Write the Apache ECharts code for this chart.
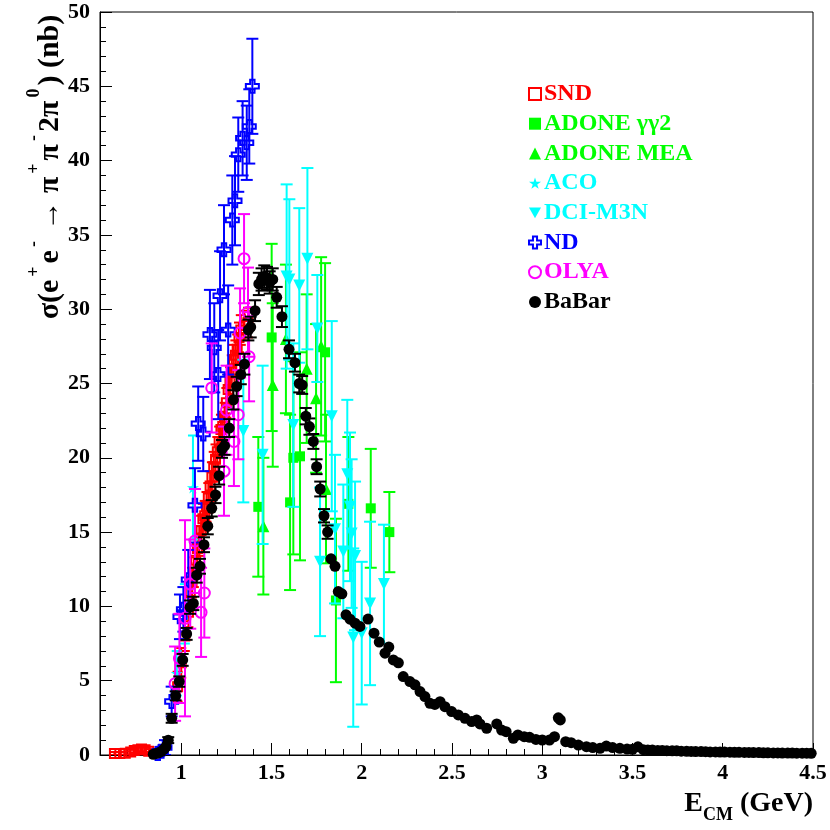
<!DOCTYPE html>
<html>
<head>
<meta charset="utf-8">
<script src="https://cdn.jsdelivr.net/npm/echarts@6/dist/echarts.min.js"></script>
<style>html,body{margin:0;padding:0;background:#fff;}#c{width:830px;height:830px;}</style>
</head>
<body>
<div id="c"></div>
<script>
// ---------- DATA: [E_CM (GeV), sigma (nb), error (nb)] ----------
const seriesNames = ['SND', 'ADONE γγ2', 'ADONE MEA', 'ACO', 'DCI-M3N', 'ND', 'OLYA', 'BaBar'];

const sndData = [
  [0.63,0.10,0.10],[0.66,0.10,0.10],[0.69,0.12,0.10],[0.72,0.20,0.15],[0.74,0.30,0.15],
  [0.76,0.35,0.15],[0.78,0.40,0.15],[0.80,0.35,0.15],[0.82,0.25,0.15],
  [0.98,4.6,1.0],[1.00,6.2,1.0],[1.02,8.0,1.0],[1.04,9.6,1.0],[1.05,11.0,1.0],[1.06,11.6,1.0],
  [1.07,12.3,1.0],[1.08,13.1,1.0],[1.09,13.9,1.0],[1.10,14.4,1.0],[1.11,15.1,1.0],[1.12,15.9,1.0],
  [1.13,16.1,1.0],[1.14,16.7,1.0],[1.15,17.3,1.0],[1.16,18.1,1.0],[1.17,18.7,1.0],[1.18,19.4,1.0],
  [1.19,19.9,1.0],[1.20,20.4,1.0],[1.21,21.1,1.0],[1.22,21.9,1.0],[1.23,22.1,1.0],[1.24,22.7,1.0],
  [1.25,23.7,1.0],[1.26,24.6,1.0],[1.27,25.1,1.0],[1.28,25.9,1.0],[1.29,26.6,1.0],[1.30,26.9,1.0],
  [1.31,27.3,1.0],[1.32,28.1,1.0],[1.33,28.6,1.0],[1.35,28.9,1.0],[1.37,29.1,1.0]
];

const adoneGG2Data = [
  [1.427,16.7,4.7],[1.501,28.1,6.3],[1.603,17.0,5.9],[1.621,20.0,6.5],[1.658,20.1,7.0],
  [1.797,27.1,6.0],[1.857,10.4,5.5],[1.926,16.9,4.5],[2.050,16.6,4.0],[2.153,15.0,2.7]
];

const adoneMEAData = [
  [1.455,15.4,4.6],[1.507,24.9,5.5],[1.580,28.0,5.0],[1.695,26.0,5.0],[1.747,24.0,5.0],
  [1.775,27.5,6.0],[1.802,17.9,5.0]
];

const acoData = [
  [0.975,5.5,1.5],[1.020,9.5,2.0],[1.065,18.0,3.5]
];

const dciData = [
  [1.344,21.8,4.8],[1.451,20.2,6.0],[1.584,32.2,6.2],[1.599,32.0,5.4],[1.621,22.2,5.5],
  [1.654,31.6,5.2],[1.699,33.4,6.1],[1.754,28.7,3.6],[1.769,13.0,5.0],[1.834,22.8,6.4],
  [1.852,15.2,5.0],[1.898,13.7,4.5],[1.920,18.9,5.0],[1.935,16.7,5.0],[1.944,14.9,5.0],
  [1.953,7.9,6.0],[1.963,13.4,5.0],[2.000,8.2,4.8],[2.046,10.2,5.5],[2.123,11.5,4.0]
];

const ndData = [
  [0.87,0.10,0.3],[0.89,0.25,0.3],[0.91,0.5,0.5],[0.947,3.6,1.0],[0.993,9.3,1.5],[1.012,9.8,1.5],
  [1.039,11.8,2.0],[1.076,16.8,2.5],[1.094,22.3,2.5],[1.122,21.6,2.5],[1.159,28.3,3.0],
  [1.183,27.4,3.0],[1.205,25.6,3.0],[1.215,30.9,3.0],[1.237,34.0,3.0],[1.260,28.6,3.0],
  [1.283,36.0,3.0],[1.298,37.3,3.0],[1.316,40.4,2.5],[1.340,41.5,2.5],[1.363,41.2,2.5],
  [1.377,42.3,2.5],[1.394,45.0,3.2]
];

const olyaData = [
  [0.966,4.8,2.5],[0.990,6.5,3.0],[1.021,9.2,6.6],[1.050,11.5,3.0],[1.076,14.4,3.5],
  [1.110,9.6,3.0],[1.128,10.9,3.0],[1.169,24.7,3.0],[1.237,19.1,3.0],[1.251,23.2,3.0],
  [1.292,21.1,3.0],[1.316,22.9,3.0],[1.326,28.4,3.0],[1.348,33.4,3.0],[1.370,29.8,3.0],
  [1.376,26.8,3.0]
];

const babarData = [
  [0.845,0.05,0],[0.860,0.10,0],[0.875,0.15,0],[0.890,0.25,0],[0.905,0.40,0],[0.915,0.55,0],
  [0.928,1.0,0.2],[0.947,2.47,0.3],[0.969,3.98,0.3],[0.989,4.94,0.35],[1.008,6.4,0.4],
  [1.030,8.15,0.4],[1.049,9.95,0.45],[1.067,10.2,0.45],[1.086,12.1,0.5],[1.104,12.7,0.5],
  [1.126,14.15,0.5],[1.147,15.4,0.55],[1.169,16.6,0.55],[1.190,17.5,0.55],[1.210,18.8,0.6],
  [1.226,20.6,0.6],[1.240,20.8,0.6],[1.266,22.0,0.6],[1.289,23.9,0.65],[1.307,24.8,0.65],
  [1.330,25.6,0.65],[1.350,26.3,0.7],[1.372,28.6,0.7],[1.385,28.8,0.7],[1.409,29.9,0.7],
  [1.430,31.7,0.75],[1.445,32.0,0.75],[1.460,32.2,0.75],[1.475,32.1,0.75],[1.490,31.8,0.75],
  [1.507,32.0,0.75],[1.529,30.8,0.7],[1.558,29.5,0.7],[1.597,27.3,0.6],[1.630,26.4,0.6],
  [1.654,25.0,0.6],[1.670,24.9,0.6],[1.690,22.8,0.55],[1.710,22.1,0.55],[1.732,21.1,0.5],
  [1.750,19.4,0.5],[1.770,17.9,0.5],[1.791,16.1,0.45],[1.811,15.0,0.45],[1.830,13.2,0],
  [1.852,12.7,0],[1.870,11.0,0],[1.890,10.85,0],[1.913,9.43,0],[1.935,9.14,0],[1.963,8.87,0],
  [1.990,8.65,0],[2.035,9.15,0],[2.068,8.2,0],[2.097,7.6,0],[2.129,6.85,0],[2.150,7.26,0],
  [2.175,6.4,0],[2.203,6.2,0],[2.230,5.28,0],[2.267,4.94,0],[2.295,4.72,0],[2.323,4.27,0],
  [2.350,3.93,0],[2.378,3.48,0],[2.405,3.40,0],[2.434,3.59,0],[2.461,3.25,0],[2.498,2.92,0],
  [2.535,2.70,0],[2.572,2.47,0],[2.609,2.25,0],[2.637,2.36,0],[2.655,2.09,0],[2.692,1.80,0],
  [2.748,2.09,0],[2.775,1.68,0],[2.800,1.57,0],[2.840,1.12,0],[2.865,1.35,0],[2.900,1.23,0],
  [2.930,1.19,0],[2.965,1.05,0],[3.000,1.01,0],[3.040,1.01,0],[3.068,1.23,0],[3.089,2.50,0],
  [3.100,2.36,0],[3.130,0.90,0],[3.160,0.83,0],[3.200,0.67,0],[3.245,0.56,0],[3.280,0.50,0],
  [3.320,0.45,0],[3.355,0.60,0],[3.390,0.50,0],[3.430,0.45,0],[3.470,0.40,0],[3.500,0.38,0],
  [3.530,0.55,0],[3.560,0.36,0],[3.585,0.34,0],[3.610,0.33,0],[3.640,0.31,0],[3.665,0.30,0],
  [3.690,0.29,0],[3.720,0.28,0],[3.745,0.28,0],[3.770,0.26,0],[3.800,0.25,0],[3.825,0.24,0],
  [3.850,0.23,0],[3.880,0.23,0],[3.905,0.22,0],[3.930,0.21,0],[3.960,0.21,0],[3.985,0.20,0],
  [4.010,0.20,0],[4.040,0.19,0],[4.065,0.18,0],[4.090,0.18,0],[4.120,0.17,0],[4.145,0.17,0],
  [4.170,0.16,0],[4.200,0.16,0],[4.225,0.15,0],[4.250,0.15,0],[4.280,0.14,0],[4.305,0.14,0],
  [4.330,0.13,0],[4.360,0.13,0],[4.385,0.13,0],[4.410,0.12,0],[4.440,0.12,0],[4.465,0.12,0],
  [4.490,0.11,0]
];

const xMajorTicks = [1, 1.5, 2, 2.5, 3, 3.5, 4, 4.5];
const xMinorTicks = [0.6,0.7,0.8,0.9,1.1,1.2,1.3,1.4,1.6,1.7,1.8,1.9,2.1,2.2,2.3,2.4,2.6,2.7,2.8,2.9,
  3.1,3.2,3.3,3.4,3.6,3.7,3.8,3.9,4.1,4.2,4.3,4.4];

// ---------- STYLE ----------
const FONT = '"Liberation Serif", "DejaVu Serif", serif';
const STAR = 'path://M50,0 L61,35 L98,35 L68,57 L79,91 L50,70 L21,91 L32,57 L2,35 L39,35 Z';
const DOWNTRI = 'path://M0,0 L100,0 L50,90 Z';
const OPENCROSS = 'path://M33,0 L67,0 L67,33 L100,33 L100,67 L67,67 L67,100 L33,100 L33,67 L0,67 L0,33 L33,33 Z';

const sets = [
  {name:'SND', data:sndData, color:'#ff0000', symbol:'rect', size:9, hollow:true, cap:10},
  {name:'ADONE γγ2', data:adoneGG2Data, color:'#00ff00', symbol:'rect', size:10, hollow:false, cap:12},
  {name:'ADONE MEA', data:adoneMEAData, color:'#00ff00', symbol:'triangle', size:12, hollow:false, cap:12},
  {name:'ACO', data:acoData, color:'#00ffff', symbol:STAR, size:12, hollow:false, cap:10},
  {name:'DCI-M3N', data:dciData, color:'#00ffff', symbol:DOWNTRI, size:12, hollow:false, cap:12},
  {name:'ND', data:ndData, color:'#0000ff', symbol:OPENCROSS, size:13, hollow:true, cap:12},
  {name:'OLYA', data:olyaData, color:'#ff00ff', symbol:'circle', size:11, hollow:true, cap:12},
  {name:'BaBar', data:babarData, color:'#000000', symbol:'circle', size:11, hollow:false, cap:12}
];

function errRenderer(color, capW) {
  return function (params, api) {
    const x = api.value(0), y = api.value(1), e = api.value(2);
    if (!e) return null;
    const top = api.coord([x, y + e]);
    const bot = api.coord([x, Math.max(y - e, 0)]);
    const st = {stroke: color, lineWidth: 2};
    const h = capW / 2;
    return {
      type: 'group',
      children: [
        {type:'line', shape:{x1:top[0], y1:top[1], x2:bot[0], y2:bot[1]}, style:st},
        {type:'line', shape:{x1:top[0]-h, y1:top[1], x2:top[0]+h, y2:top[1]}, style:st},
        {type:'line', shape:{x1:bot[0]-h, y1:bot[1], x2:bot[0]+h, y2:bot[1]}, style:st}
      ]
    };
  };
}

const series = [];
sets.forEach(function (s, i) {
  series.push({
    type: 'custom', name: s.name + ' err', xAxisIndex: 0, yAxisIndex: 0,
    data: s.data, encode: {x: 0, y: 1}, clip: true, silent: true,
    renderItem: errRenderer(s.color, s.cap), z: 2 + 2 * i
  });
  series.push({
    type: 'scatter', name: s.name, xAxisIndex: 0, yAxisIndex: 0,
    data: s.data.map(function (d) { return [d[0], d[1]]; }),
    symbol: s.symbol, symbolSize: s.size,
    itemStyle: s.hollow ? {color: 'rgba(255,255,255,0)', borderColor: s.color, borderWidth: 2, opacity: 1}
                        : {color: s.color, borderWidth: 0, opacity: 1},
    emphasis: {disabled: true}, z: 3 + 2 * i, clip: true
  });
});

const axisLabelStyle = {color: '#000', fontFamily: FONT, fontWeight: 'bold', fontSize: 22};

const option = {
  animation: false,
  backgroundColor: '#fff',
  grid: {left: 100, top: 12, width: 713, height: 743, show: true, borderColor: '#000', borderWidth: 1, backgroundColor: 'transparent'},
  xAxis: [
    {type: 'value', min: 0.55, max: 4.5, position: 'bottom',
     axisLine: {show: true, onZero: false, lineStyle: {color: '#000', width: 1}},
     axisTick: {show: true, inside: true, length: 12, lineStyle: {color: '#000', width: 1}, customValues: xMajorTicks},
     axisLabel: Object.assign({show: true, margin: 7, customValues: xMajorTicks, formatter: function (v) { return String(v); }}, axisLabelStyle),
     splitLine: {show: false}},
    {type: 'value', min: 0.55, max: 4.5, position: 'bottom',
     axisLine: {show: false},
     axisTick: {show: true, inside: true, length: 6, lineStyle: {color: '#000', width: 1}, customValues: xMinorTicks},
     axisLabel: {show: false}, splitLine: {show: false}}
  ],
  yAxis: [
    {type: 'value', min: 0, max: 50, interval: 5,
     axisLine: {show: true, onZero: false, lineStyle: {color: '#000', width: 1}},
     axisTick: {show: true, inside: true, length: 12, lineStyle: {color: '#000', width: 1}},
     minorTick: {show: true, splitNumber: 5, length: 6, lineStyle: {color: '#000', width: 1}},
     axisLabel: Object.assign({show: true, margin: 10}, axisLabelStyle),
     splitLine: {show: false}, minorSplitLine: {show: false}}
  ],
  legend: {
    orient: 'vertical', left: 523, top: 77, itemGap: 5.7, itemWidth: 12, itemHeight: 12,
    selectedMode: false,
    textStyle: {fontFamily: FONT, fontWeight: 'bold', fontSize: 24, lineHeight: 22, padding: [0, 0, 0, -2]},
    data: sets.map(function (s) { return {name: s.name, textStyle: {color: s.color}}; })
  },
  graphic: [
    {type: 'text', x: 45, y: 167, rotation: Math.PI / 2, z: 100,
     style: {
       text: '{s|σ(e}{p|+}{s|e}{p|-}{s| → π}{p|+}{s|π}{p|-}{s|2π}{p|0}{s|) (nb)}',
       align: 'center', verticalAlign: 'middle',
       rich: {
         s: {fontFamily: FONT, fontWeight: 'bold', fontSize: 30, lineHeight: 40, verticalAlign: 'bottom', fill: '#000'},
         p: {fontFamily: FONT, fontWeight: 'bold', fontSize: 18, lineHeight: 40, verticalAlign: 'top', padding: [0, 3, 0, 3], fill: '#000'}
       }
     }},
    {type: 'text', x: 813, y: 807, z: 100,
     style: {
       text: '{s|E}{b|CM}{s| (GeV)}',
       align: 'right', verticalAlign: 'middle',
       rich: {
         s: {fontFamily: FONT, fontWeight: 'bold', fontSize: 28, lineHeight: 34, verticalAlign: 'top', fill: '#000'},
         b: {fontFamily: FONT, fontWeight: 'bold', fontSize: 18, lineHeight: 34, verticalAlign: 'bottom', fill: '#000'}
       }
     }}
  ],
  series: series
};

const chart = echarts.init(document.getElementById('c'), null, {renderer: 'canvas'});
chart.setOption(option);
</script>
</body>
</html>
